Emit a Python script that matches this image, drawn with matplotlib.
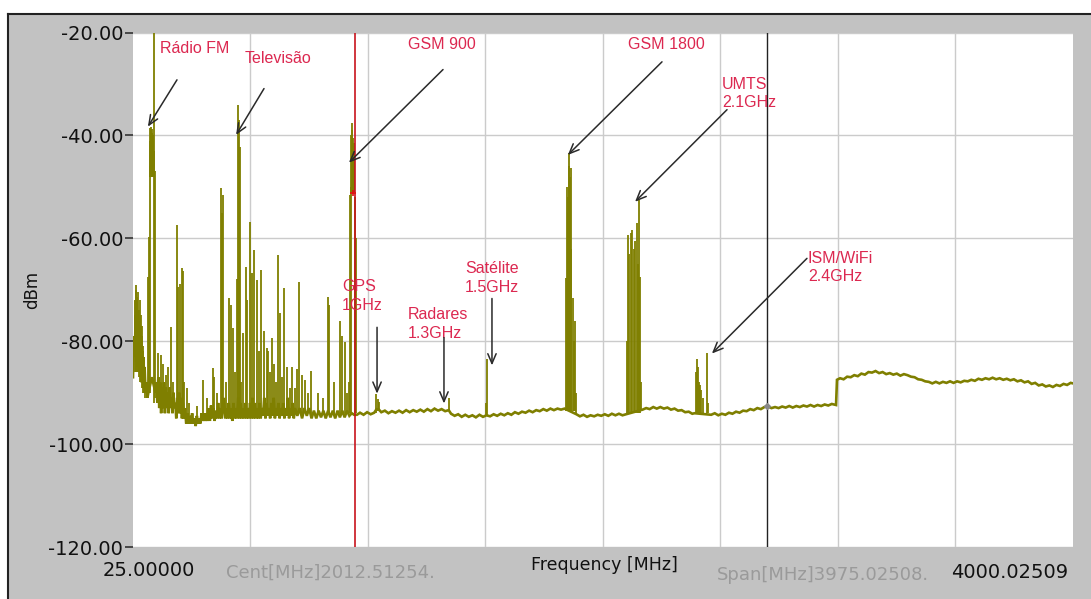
import matplotlib
matplotlib.use("Agg")
import matplotlib.pyplot as plt
from matplotlib.patches import Rectangle
from matplotlib.lines import Line2D

# ---------------- data ----------------
f_start = 25.00000
f_stop = 4000.02509
f_center = 2012.51254
f_span = 3975.02508
marker_red_mhz = 964.0
marker_black_mhz = 2706.0

y_ticks = [-20, -40, -60, -80, -100, -120]
y_tick_labels = ["-20.00", "-40.00", "-60.00", "-80.00", "-100.00", "-120.00"]

# noise floor of the trace (MHz, dBm)
floor_mhz = [25, 29, 33, 37, 40, 43, 47, 50, 54, 58, 62, 66, 70, 74, 78, 82, 86, 90,
             95, 100, 105, 110, 115, 120, 124, 128, 132, 136, 140, 144, 148, 152, 156,
             160, 164, 168, 172, 176, 180, 184, 188, 192, 196, 200, 204, 208, 212, 216,
             220, 224, 228, 232, 236, 240, 245, 250, 255, 260, 265, 270, 275, 280, 285,
             290, 295, 300, 305, 310, 315, 320, 325, 330, 335, 340, 345, 350, 355, 360,
             365, 370, 375, 380, 385, 390, 395, 400, 410, 415, 420, 425, 430, 435, 440,
             445, 450, 455, 460, 465, 470, 475, 480, 485, 490, 495, 500, 505, 510, 515,
             520, 525, 530, 535, 540, 545, 550, 555, 560, 565, 570, 575, 580, 585, 590,
             595, 600, 605, 610, 615, 620, 625, 630, 635, 640, 645, 650, 655, 660, 665,
             670, 675, 680, 685, 690, 695, 700, 705, 710, 720, 730, 740, 750, 760, 770,
             780, 790, 800, 810, 820, 830, 840, 850, 860, 870, 880, 890, 900, 910, 920,
             930, 940, 950, 960, 972, 985, 1000, 1015, 1030, 1045, 1055, 1065, 1075, 1090,
             1105, 1120, 1135, 1150, 1165, 1180, 1195, 1210, 1225, 1240, 1255, 1270, 1285,
             1300, 1315, 1330, 1345, 1360, 1370, 1385, 1400, 1415, 1430, 1445, 1460, 1475,
             1490, 1505, 1520, 1535, 1550, 1565, 1580, 1595, 1610, 1625, 1640, 1655, 1670,
             1685, 1700, 1715, 1730, 1745, 1760, 1775, 1790, 1805, 1820, 1835, 1850, 1900,
             1915, 1930, 1945, 1960, 1975, 1990, 2005, 2020, 2035, 2050, 2065, 2080, 2095,
             2110, 2180, 2195, 2210, 2225, 2240, 2255, 2270, 2285, 2300, 2315, 2330, 2345,
             2360, 2375, 2390, 2400, 2470, 2485, 2500, 2515, 2530, 2545, 2560, 2575, 2590,
             2605, 2620, 2635, 2650, 2665, 2680, 2695, 2710, 2725, 2740, 2755, 2770, 2785,
             2800, 2815, 2830, 2845, 2860, 2875, 2890, 2905, 2920, 2935, 2950, 2965, 2980,
             2998, 3002, 3015, 3030, 3045, 3060, 3075, 3090, 3105, 3120, 3135, 3150, 3165,
             3180, 3195, 3210, 3225, 3240, 3255, 3270, 3285, 3300, 3315, 3330, 3345, 3360,
             3375, 3390, 3405, 3420, 3435, 3450, 3465, 3480, 3495, 3510, 3525, 3540, 3555,
             3570, 3585, 3600, 3615, 3630, 3645, 3660, 3675, 3690, 3705, 3720, 3735, 3750,
             3765, 3780, 3795, 3810, 3825, 3840, 3855, 3870, 3885, 3900, 3915, 3930, 3945,
             3960, 3975, 3990, 4000]
floor_dbm = [-87, -79, -83, -72, -80, -74, -84, -77, -86, -80, -88, -83, -89, -85, -90, -88, -91, -90,
             -89, -88, -87, -88, -89, -90, -88, -92, -87, -93, -88, -94, -89, -93, -88,
             -94, -89, -93, -90, -94, -89, -93, -91, -94, -90, -93, -92, -95, -91, -94,
             -90, -94, -91, -95, -92, -95, -93, -96, -94, -96, -94.5, -96, -94, -96, -95,
             -96.5, -94.5, -96, -95, -96, -94, -95.5, -94, -95.5, -94, -95.5, -93, -95.5, -92.5, -95,
             -93, -95.5, -93.5, -95, -92, -95, -93, -95, -91, -95, -93, -95, -92, -95, -93,
             -95.5, -92, -95, -93, -95, -91, -95, -92, -95, -93, -95, -92, -95, -93, -95,
             -92, -95, -91, -95, -92, -95, -93, -95, -92, -95, -93, -94.5, -91, -95, -92,
             -94.5, -93, -95, -92, -94.5, -91, -95, -93, -94.5, -92, -95, -93, -94.5, -92, -95,
             -93, -94.5, -91, -95, -93, -94.5, -92, -95, -93, -94.5, -93, -95, -93, -94.5, -93,
             -95, -93.5, -95, -93.5, -94.8, -93.5, -95, -93.5, -94.8, -93.5, -95, -93.5, -94.8, -93.5, -94.8,
             -93.5, -94.5, -94, -94.3, -94.3, -93.9, -94.3, -93.8, -94.2, -93.9, -93.2, -93.3, -93.8, -93.5,
             -94, -93.6, -93.9, -93.5, -93.9, -93.4, -93.8, -93.4, -93.7, -93.3, -93.7, -93.2, -93.6,
             -93.1, -93.5, -93.2, -93.6, -93.4, -94.1, -94.5, -94.2, -94.7, -94.3, -94.7, -94.4, -94.8,
             -94.3, -94.7, -94.4, -94.6, -94.2, -94.5, -94.1, -94.4, -94.0, -94.3, -93.8, -94.1, -93.7,
             -93.9, -93.5, -93.8, -93.4, -93.6, -93.2, -93.5, -93.1, -93.4, -93.1, -93.3, -93.1, -94.2,
             -94.6, -94.3, -94.7, -94.4, -94.6, -94.3, -94.5, -94.2, -94.5, -94.1, -94.4, -94.1, -94.4,
             -94.2, -93.3, -93.0, -93.2, -92.8, -93.1, -92.8, -93.1, -92.9, -93.3, -93.1, -93.5, -93.4,
             -93.8, -93.7, -94.1, -94.0, -94.3, -94.0, -94.4, -94.1, -94.3, -93.9, -94.1, -93.7, -93.9,
             -93.5, -93.6, -93.2, -93.4, -93.0, -93.2, -92.8, -92.7, -93.0, -92.8, -93.0, -92.7, -92.9,
             -92.6, -92.9, -92.6, -92.8, -92.5, -92.7, -92.4, -92.7, -92.4, -92.6, -92.3, -92.5, -92.2,
             -92.4, -87.5, -87.2, -87.4, -86.9, -87.0, -86.6, -86.8, -86.3, -86.5, -86.0, -86.1, -85.8,
             -86.2, -86.0, -86.4, -86.2, -86.5, -86.3, -86.7, -86.4, -86.6, -86.9, -87.0, -87.4, -87.5,
             -87.8, -87.9, -88.2, -87.9, -88.2, -87.9, -88.1, -87.8, -88.1, -87.8, -88.0, -87.7, -87.8,
             -87.5, -87.7, -87.3, -87.5, -87.2, -87.4, -87.1, -87.4, -87.2, -87.5, -87.3, -87.6, -87.4,
             -87.8, -87.6, -88.0, -87.8, -88.3, -88.1, -88.6, -88.4, -88.8, -88.6, -88.9, -88.5, -88.7,
             -88.3, -88.5, -88.1, -88.2]

# narrow emissions drawn as vertical strokes: frequency, lower end, top (dBm)
spike_mhz = [34, 36, 38, 39, 41, 42, 44, 45, 47, 49, 51, 53, 55, 57, 59, 61, 63, 65, 67, 69, 71, 73, 75, 77,
             88, 92, 95, 97, 99, 101, 103, 105, 107, 109, 111, 113, 115, 117,
             131, 143, 152, 165, 173, 186, 194, 211, 215, 224, 232, 236, 241, 253, 262,
             296, 321, 338, 363, 367, 380,
             397, 401, 405, 418, 431, 439, 448, 456, 465, 469, 473, 477, 483, 490, 503,
             507, 520, 528, 537, 549, 558, 566, 579, 592, 596, 604, 613, 621, 630, 638,
             647, 655, 663, 676, 688, 697, 710, 718, 727, 740, 752, 765, 778, 807, 830,
             850, 854, 875, 900, 909, 921, 930,
             938, 942, 945, 947, 949, 951, 953, 955, 957, 959, 961, 963, 966,
             1052, 1061, 1065, 1362, 1518, 1522,
             1856, 1860, 1863, 1865, 1867, 1869, 1871, 1873, 1876, 1879, 1884, 1888, 1893, 1897,
             2113, 2118, 2123, 2129, 2136, 2142, 2149, 2156, 2161, 2165, 2171, 2175,
             2405, 2408, 2413, 2418, 2422, 2427, 2436, 2452, 2458]
spike_low = [-86, -84, -86, -82, -85, -83, -86, -84, -86, -84, -87, -85, -88, -86, -88, -87, -89, -88, -90, -88, -90, -89, -91, -90,
             -90, -90, -90, -48, -48, -48, -48, -48, -48, -48, -48, -92, -48, -91,
             -90, -91, -91, -91, -91, -92, -92, -92, -92, -92, -92, -92, -93, -94, -95,
             -95, -95, -95, -95, -95, -95,
             -94, -94, -94, -94, -94, -94, -94, -94, -94, -94, -94, -94, -94, -94, -94,
             -94, -94, -94, -94, -94, -94, -94, -94, -94, -94, -94, -94, -94, -94, -94,
             -94, -94, -94, -94, -94, -94, -94, -94, -94, -94, -94, -94, -94, -94, -94,
             -94, -94, -94, -94, -94, -94, -94,
             -94, -94, -94, -51, -51, -51, -51, -51, -51, -51, -51, -94, -94,
             -94, -93.5, -93.5, -93.5, -94.5, -94.5,
             -93.5, -93.5, -93.5, -93.5, -93.5, -93.5, -93.5, -93.5, -93.5, -93.5, -93.5, -93.5, -93.5, -94,
             -94, -94, -94, -94, -94, -94, -94, -94, -94, -94, -94, -93.5,
             -94, -94, -94, -94, -94, -94, -94, -94, -94]
spike_top = [-75, -69, -73, -70, -76, -71.5, -74, -70.5, -77, -74, -76, -72, -78, -75, -79, -77, -80, -79, -82, -81, -83, -83, -86, -85,
             -67.6, -59.7, -46, -41, -38.5, -40, -38.3, -39.5, -38.8, -41, -40, -19, -43, -47,
             -82.2, -82.7, -84.4, -86.5, -85, -77.3, -88, -57.4, -69.5, -68.9, -65.8, -66.4, -88, -89, -92,
             -92.5, -87.6, -91, -85.3, -87, -90,
             -50.3, -55, -51.5, -88, -71.6, -73, -77.5, -86, -68, -34, -37, -42.2, -88, -78.5, -65.6,
             -72, -56.9, -66.8, -62.3, -68.2, -82, -66.2, -78, -81.4, -82, -86, -79.3, -84.5, -88, -63.3,
             -74.6, -87, -69.7, -85, -89, -85.1, -89, -85.5, -68.5, -86.5, -87.5, -90, -85.7, -90, -91,
             -71.5, -73, -88, -76, -79, -80.2, -90,
             -88, -51.5, -50, -40, -37.6, -41, -39, -42, -40.5, -41.5, -43, -52, -60,
             -90.2, -91.3, -91.8, -91, -92, -83.5,
             -67.8, -50, -55, -52, -46, -43.4, -48, -53, -46.3, -62, -71.6, -80, -76, -90,
             -80, -59.4, -63, -59, -58.4, -62, -60.5, -57, -65, -52.6, -67.6, -88,
             -86, -83.4, -85, -88, -88.6, -89.5, -91, -82.2, -92]

# annotations: label, text position (MHz, dBm), arrow tail, arrow head
ann_labels = ["Rádio FM", "Televisão", "GSM 900", "GSM 1800", "UMTS\n2.1GHz",
              "ISM/WiFi\n2.4GHz", "GPS\n1GHz", "Radares\n1.3GHz", "Satélite\n1.5GHz"]
ann_text_xy = [(139, -21.6), (499, -23.5), (1188, -20.9), (2118, -20.9), (2516, -28.6),
               (2879, -62.4), (909, -67.9), (1188, -73.4), (1429, -64.4)]
ann_tail = [(211, -29.2), (579, -30.9), (1336, -27.2), (2262, -25.7), (2537, -35.0),
            (2875, -63.9), (1057, -77.3), (1340, -79.3), (1543, -71.7)]
ann_head = [(88, -38.3), (461, -39.9), (938, -45.3), (1864, -43.8), (2148, -52.9),
            (2473, -82.4), (1057, -90.2), (1340, -92.1), (1543, -84.7)]

# ---------------- drawing ----------------
W, H = 1091, 599
fig = plt.figure(figsize=(W / 100, H / 100), dpi=100)
fig.patch.set_facecolor("white")

panel_col = "#c2c2c2"
fig.add_artist(Rectangle((8 / W, 0), 1 - 8 / W, 1 - 14 / H, transform=fig.transFigure,
                         facecolor=panel_col, edgecolor="none", zorder=0))
fig.add_artist(Line2D([8 / W, 1], [1 - 14 / H, 1 - 14 / H], transform=fig.transFigure,
                      color="#222222", lw=1.5))
fig.add_artist(Line2D([8 / W, 8 / W], [0, 1 - 14 / H], transform=fig.transFigure,
                      color="#222222", lw=1.5))

ax = fig.add_axes([133 / W, 1 - 547 / H, 940 / W, 514.5 / H])
ax.set_facecolor("white")
for s in ax.spines.values():
    s.set_visible(False)

ax.set_xlim(f_start, f_stop)
ax.set_ylim(-120, -20)

grid_col = "#cbcbcb"
div = f_span / 8
xgrid = [f_start + k * div for k in range(1, 8)]
ax.set_xticks(xgrid)
ax.set_xticklabels([])
ax.tick_params(axis="x", length=0)
ax.set_yticks(y_ticks)
ax.set_yticklabels(y_tick_labels, fontsize=14, family="DejaVu Sans", color="#111111")
ax.tick_params(axis="y", length=6, width=1.2, color="#333333", pad=1)
ax.grid(True, color=grid_col, lw=1.0, zorder=0)

trace_col = "#7f7f00"
ax.plot(floor_mhz, floor_dbm, color=trace_col, lw=1.9, zorder=3, solid_joinstyle="miter")
ax.vlines(spike_mhz, spike_low, spike_top, color=trace_col, lw=1.3, zorder=3)

# markers
ax.axvline(marker_red_mhz, color="#c8141e", lw=1.2, zorder=4)
ax.axvline(marker_black_mhz, color="#222222", lw=1.0, zorder=4)
ax.plot([marker_red_mhz - 8], [-51.2], marker="+", color="#e01010", ms=5, mew=1.2, zorder=5)
ax.plot([marker_black_mhz], [-92.6], marker="D", color="#888888", ms=3, zorder=5)

# annotations
red = "#dc2850"
for lab, txy, tail, head in zip(ann_labels, ann_text_xy, ann_tail, ann_head):
    ax.text(txy[0], txy[1], lab, color=red, fontsize=11.5, family="Liberation Sans",
            ha="left", va="top", linespacing=1.3, zorder=6)
    ax.annotate("", xy=head, xytext=tail,
                arrowprops=dict(arrowstyle="->,head_length=0.7,head_width=0.3",
                                color="#2a2a2a", lw=1.1, shrinkA=0, shrinkB=0),
                zorder=6)

# axis labels and footer texts
fig.text(32 / W, 1 - 290 / H, "dBm", rotation=90, fontsize=12, family="DejaVu Sans",
         ha="center", va="center", color="#111111")
fig.text(149 / W, 1 - 571 / H, f"{f_start:.5f}", fontsize=14, family="DejaVu Sans",
         ha="center", va="center", color="#111111")
fig.text(330 / W, 1 - 573 / H, f"Cent[MHz]{f_center:.5f}.", fontsize=13, family="DejaVu Sans",
         ha="center", va="center", color="#9a9a9a")
fig.text(604 / W, 1 - 565 / H, "Frequency [MHz]", fontsize=12.5, family="DejaVu Sans",
         ha="center", va="center", color="#111111")
fig.text(823 / W, 1 - 575 / H, f"Span[MHz]{f_span:.5f}.", fontsize=13, family="DejaVu Sans",
         ha="center", va="center", color="#9a9a9a")
fig.text(1010 / W, 1 - 572 / H, f"{f_stop:.5f}", fontsize=14, family="DejaVu Sans",
         ha="center", va="center", color="#111111")

fig.savefig("out.png", dpi=100)
